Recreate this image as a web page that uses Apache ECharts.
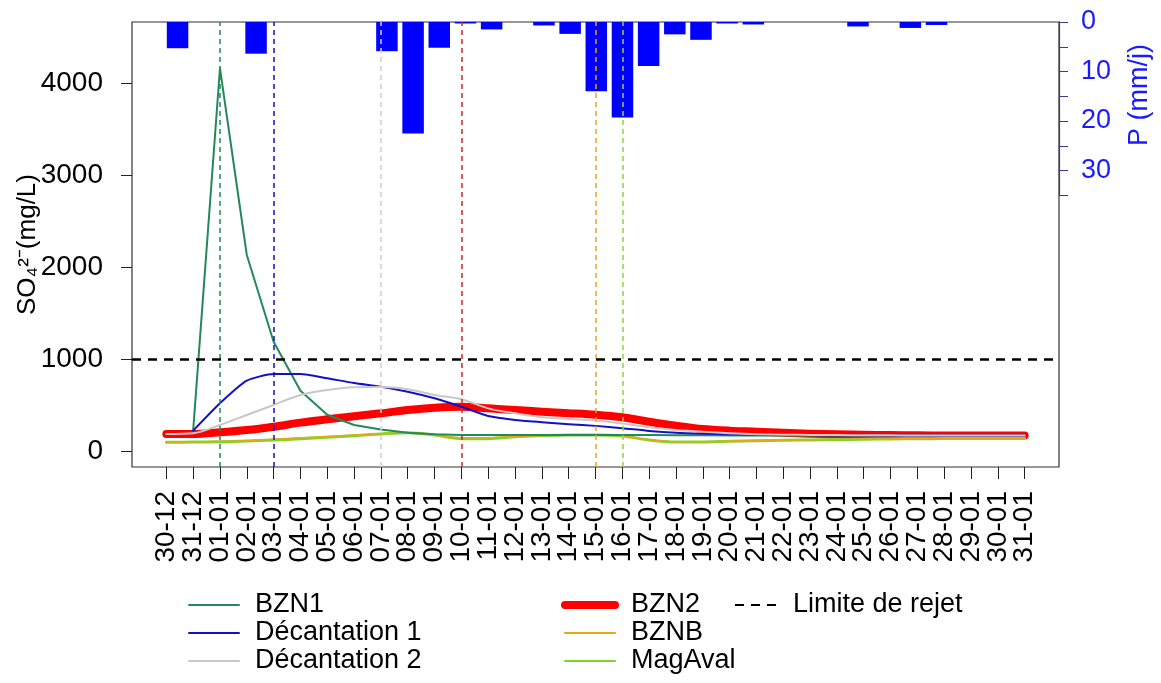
<!DOCTYPE html>
<html>
<head>
<meta charset="utf-8">
<script src="https://cdn.jsdelivr.net/npm/echarts@6/dist/echarts.min.js"></script>
<style>
  html, body { margin: 0; padding: 0; background: #fff; }
  #chart { width: 1161px; height: 683px; }
</style>
</head>
<body>
<div id="chart"></div>
<script>
// dates (x axis)
const dates = ['30-12', '31-12', '01-01', '02-01', '03-01', '04-01', '05-01', '06-01', '07-01', '08-01',
  '09-01', '10-01', '11-01', '12-01', '13-01', '14-01', '15-01', '16-01', '17-01', '18-01', '19-01',
  '20-01', '21-01', '22-01', '23-01', '24-01', '25-01', '26-01', '27-01', '28-01', '29-01', '30-01', '31-01'];

// SO4 (mg/L)
const bzn1 = [null, 228, 4158, 2133, 1193, 660, 400, 290, 240, 205, 190, 182, 180, 180, 180, 182, 182,
  181, 180, 178, 177, 176, 175, 175, 175, 175, 175, 175, 175, 175, 175, 175, 175];
const decant1 = [null, 228, 525, 770, 843, 843, 796, 745, 705, 651, 579, 488, 387, 344, 320, 298, 280,
  255, 225, 205, 195, 188, 184, 182, 180, 179, 178, 177, 176, 176, 175, 175, 175];
const decant2 = [192, 200, 290, 398, 506, 615, 669, 698, 702, 677, 615, 568, 470, 416, 373, 355, 338,
  305, 265, 235, 215, 200, 190, 185, 182, 180, 178, 177, 176, 176, 175, 175, 175];
const bzn2 = [192, 192, 210, 235, 271, 315, 351, 385, 416, 452, 477, 488, 470, 452, 434, 418, 401,
  373, 325, 282, 246, 228, 217, 205, 195, 188, 183, 180, 178, 176, 175, 175, 175];
const bznb = [105, 107, 112, 120, 135, 150, 165, 180, 195, 205, 180, 150, 150, 165, 176, 183, 183,
  172, 130, 108, 108, 115, 121, 126, 130, 134, 137, 140, 142, 144, 145, 146, 147];
const magAval = [102, 104, 108, 115, 127, 140, 156, 173, 192, 206, 181, 141, 141, 163, 174, 181, 181,
  170, 127, 105, 105, 113, 119, 124, 128, 132, 135, 138, 140, 142, 143, 144, 145];
const limiteRejet = 1000;

// dates des pics (lignes verticales)
const picBzn1 = '01-01', picDecant1 = '03-01', picDecant2 = '07-01';
const picBzn2 = '10-01', picBznb = '15-01', picMagAval = '16-01';

// pluie P (mm/j)
const pluie = [5.3, 0, 0, 6.4, 0, 0, 0, 0, 5.9, 22.5, 5.2, 0.3, 1.5, 0, 0.7, 2.4, 14, 19.3, 8.9,
  2.5, 3.6, 0.3, 0.5, 0, 0, 0, 0.9, 0, 1.2, 0.6, 0, 0, 0];

const yTicks = [0, 1000, 2000, 3000, 4000];
const pTicks = [0, 10, 20, 30];

let chart = echarts.init(document.getElementById('chart'));

const toXY = (arr) => arr.map((v, i) => [i, v]).filter((p) => p[1] !== null);

const vLine = (date, color) => ({
  silent: true,
  symbol: 'none',
  label: { show: false },
  lineStyle: { type: [5, 4], width: 1.5, color: color },
  data: [{ xAxis: dates.indexOf(date) }],
});

const lineSerie = (name, data, color, width, pic, picColor, smooth) => ({
  name: name,
  type: 'line',
  xAxisIndex: 0,
  yAxisIndex: 0,
  data: toXY(data),
  symbol: 'none',
  smooth: smooth,
  lineStyle: { color: color, width: width, cap: 'round', join: 'round' },
  itemStyle: { color: color },
  markLine: vLine(pic, picColor),
});

const font = 'Liberation Sans';

// legende en 3 colonnes
const legendCol = (names, left, width) => ({
  data: names.map((n) => ({ name: n, lineStyle: { width: n === 'BZN2' ? 8 : 2 } })),
  orient: 'vertical',
  left: left,
  top: 586,
  itemWidth: width,
  itemHeight: 14,
  itemGap: 0,
  selectedMode: false,
  itemStyle: { opacity: 0 },
  textStyle: { fontSize: 27, color: '#000', lineHeight: 28, padding: [0, 0, 0, 11] },
});

// bornes de l'axe x (echelle des dates)
const xMin = -1.28, xMax = 33.28;
// dates paires / impaires sur deux axes superposes (evite le masquage des etiquettes voisines)
const xPairs = dates.map((d, i) => i).filter((i) => i % 2 === 0);
const xImpairs = dates.map((d, i) => i).filter((i) => i % 2 === 1);

const dateAxis = (ticks) => ({
  type: 'value',
  gridIndex: 0,
  position: 'bottom',
  min: xMin,
  max: xMax,
  axisLine: { show: false, onZero: false },
  splitLine: { show: false },
  axisTick: {
    show: true,
    length: 12,
    customValues: ticks,
    lineStyle: { color: '#222', width: 1 },
  },
  axisLabel: {
    customValues: ticks,
    formatter: (v) => dates[v],
    showMinLabel: true,
    showMaxLabel: true,
    hideOverlap: false,
    rotate: 90,
    margin: 24,
    fontSize: 28,
    color: '#000',
  },
});

let option = {
  animation: false,
  textStyle: { fontFamily: font },
  grid: [
    { left: 132, right: 102, top: 22, bottom: 216, show: true, borderColor: '#333', borderWidth: 1.2 },
    { left: 132, right: 102, top: 22, height: 173.25 },
  ],
  xAxis: [
    dateAxis(xPairs),
    {
      type: 'value',
      gridIndex: 1,
      min: -1.741,
      max: 33.68,
      show: false,
    },
    dateAxis(xImpairs),
  ],
  yAxis: [
    {
      type: 'value',
      gridIndex: 0,
      min: -166,
      max: 4660,
      name: 'SO₄²⁻(mg/L)',
      nameLocation: 'middle',
      nameGap: 91,
      nameMoveOverlap: false,
      nameTextStyle: { fontSize: 26, color: '#000' },
      axisLine: { show: false, onZero: false },
      splitLine: { show: false },
      axisTick: { show: true, length: 11, customValues: yTicks, lineStyle: { color: '#222' } },
      axisLabel: { customValues: yTicks, formatter: (v) => String(v), fontSize: 28, color: '#000', margin: 29 },
    },
    {
      type: 'value',
      gridIndex: 1,
      position: 'right',
      inverse: true,
      min: 0,
      max: 35,
      interval: 5,
      axisLine: { show: true, onZero: false, lineStyle: { color: '#3a3a8c', width: 1.2 } },
      splitLine: { show: false },
      axisTick: { show: true, length: 9, lineStyle: { color: '#3a3a8c' } },
      axisLabel: { customValues: pTicks, fontSize: 27, color: '#1a1aff', margin: 22 },
    },
  ],
  legend: [
    legendCol(['BZN1', 'Décantation 1', 'Décantation 2'], 183, 50),
    legendCol(['BZN2', 'BZNB', 'MagAval'], 556, 50),
    legendCol(['Limite de rejet'], 729, 42),
  ],
  graphic: [
    {
      type: 'text',
      x: 1140,
      y: 95,
      rotation: Math.PI / 2,
      style: {
        text: 'P (mm/j)',
        fill: '#1a1aff',
        font: '27px "Liberation Sans"',
        align: 'center',
        verticalAlign: 'middle',
      },
    },
  ],
  series: [
    {
      name: 'P',
      type: 'bar',
      xAxisIndex: 1,
      yAxisIndex: 1,
      data: pluie.map((v, i) => [i, v]),
      barWidth: 21.5,
      itemStyle: { color: '#0000ff' },
    },
    lineSerie('BZN2', bzn2, '#ff0000', 8, picBzn2, '#cc2a2a', 0.3),
    lineSerie('MagAval', magAval, '#7fd42c', 3, picMagAval, '#8fd63a', 0.3),
    lineSerie('BZNB', bznb, '#e6a817', 1.5, picBznb, '#e6a817', 0.3),
    lineSerie('BZN1', bzn1, '#23885a', 2, picBzn1, '#23885a', false),
    lineSerie('Décantation 1', decant1, '#1212c4', 2, picDecant1, '#1212c4', 0.2),
    lineSerie('Décantation 2', decant2, '#c8c8c8', 2, picDecant2, '#d0d0d0', 0.3),
    {
      name: 'Limite de rejet',
      type: 'line',
      xAxisIndex: 0,
      yAxisIndex: 0,
      data: [],
      symbol: 'none',
      lineStyle: { color: '#000', width: 2.5, type: [9, 7] },
      itemStyle: { color: '#000' },
      markLine: {
        silent: true,
        symbol: 'none',
        label: { show: false },
        lineStyle: { color: '#000', width: 2.5, type: [9, 7] },
        data: [{ yAxis: limiteRejet }],
      },
    },
  ],
};

window.addEventListener('resize', function () {
  chart.resize();
});
chart.setOption(option, true);
</script>
</body>
</html>
